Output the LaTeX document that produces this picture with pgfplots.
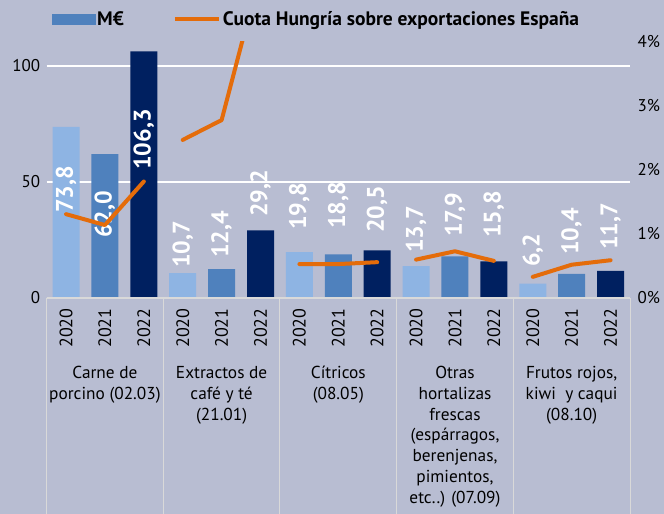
\documentclass[border=0pt]{standalone}
\usepackage{fontspec}
\setmainfont{PT Sans}
\usepackage{pgfplots}
\usepackage{pgfplotstable}
\pgfplotsset{compat=1.18}
\definecolor{bg}{RGB}{184,189,210}
\definecolor{c20}{RGB}{142,180,227}
\definecolor{c21}{RGB}{79,129,189}
\definecolor{c22}{RGB}{0,32,96}
\definecolor{lineor}{RGB}{228,108,10}
\definecolor{sep}{RGB}{217,217,217}

\pgfplotstableread{
x y lab
0.5 36.6 73,8
1.5 25.9 62,0
2.5 55.2 106,3
3.5 12.9 10,7
4.5 17.2 12,4
5.5 34.9 29,2
6.5 29.3 19,8
7.5 29.7 18,8
8.5 28.0 20,5
9.5 19.4 13,7
10.5 26.3 17,9
11.5 25.9 15,8
12.5 13.4 6,2
13.5 18.5 10,4
14.5 20.7 11,7
}\labtable

\begin{document}
\begin{tikzpicture}
\fill[bg] (-46.6pt,-216pt) rectangle (617.4pt,298pt);
\path[use as bounding box] (-46.6pt,-216pt) rectangle (617.4pt,298pt);
\begin{axis}[
  at={(0,0)}, anchor=south west, scale only axis,
  width=583.4pt, height=256pt,
  xmin=0, xmax=15, ymin=0, ymax=110.34,
  axis line style={draw=none},
  ytick={0,50,100},
  ymajorgrids, grid style={white, line width=1.3pt},
  xtick={0.5,1.5,2.5,3.5,4.5,5.5,6.5,7.5,8.5,9.5,10.5,11.5,12.5,13.5,14.5},
  xticklabels={2020,2021,2022,2020,2021,2022,2020,2021,2022,2020,2021,2022,2020,2021,2022},
  x tick label style={rotate=90, anchor=east, font=\fontsize{18}{18}\selectfont},
  xticklabel shift=7pt,
  y tick label style={font=\fontsize{17}{17}\selectfont, xshift=-3pt},
  major tick length=0pt,
  /pgf/number format/assume math mode=true,
  clip=false,
  legend columns=2,
  legend cell align=left,
  legend style={draw=none, fill=none, at={(axis description cs:0,1)}, anchor=west,
    xshift=2pt, yshift=23pt, font=\bfseries\fontsize{19.5}{19.5}\selectfont,
    /tikz/every even column/.append style={column sep=47pt}},
]
\addlegendimage{legend image code/.code={\fill[c21] (0pt,-5pt) rectangle (43pt,5pt);}}
\addlegendentry{M€}
\addlegendimage{legend image code/.code={\draw[lineor, line width=4pt] (0pt,0pt) -- (44pt,0pt);}}
\addlegendentry{Cuota Hungría sobre exportaciones España}

\addplot[forget plot, ybar, bar width=27pt, bar shift=0pt, fill=c20, draw=none]
  coordinates {(0.5,73.8) (3.5,10.7) (6.5,19.8) (9.5,13.7) (12.5,6.2)};
\addplot[forget plot, ybar, bar width=27pt, bar shift=0pt, fill=c21, draw=none]
  coordinates {(1.5,62.0) (4.5,12.4) (7.5,18.8) (10.5,17.9) (13.5,10.4)};
\addplot[forget plot, ybar, bar width=27pt, bar shift=0pt, fill=c22, draw=none]
  coordinates {(2.5,106.3) (5.5,29.2) (8.5,20.5) (11.5,15.8) (14.5,11.7)};

\addplot[forget plot, draw=none, mark=none, nodes near coords, point meta=explicit symbolic,
  nodes near coords style={rotate=90, anchor=west, inner sep=0pt, text=white,
  font=\bfseries\fontsize{24}{24}\selectfont}]
  table[x=x, y=y, meta=lab] {\labtable};

\draw[sep, line width=1.3pt] (axis cs:0,0) -- (axis cs:15,0);
\draw[sep, line width=1pt] (axis cs:0,0) -- ++(0,-216pt);
\draw[sep, line width=1pt] (axis cs:3,0) -- ++(0,-216pt);
\draw[sep, line width=1pt] (axis cs:6,0) -- ++(0,-216pt);
\draw[sep, line width=1pt] (axis cs:9,0) -- ++(0,-216pt);
\draw[sep, line width=1pt] (axis cs:12,0) -- ++(0,-216pt);
\draw[sep, line width=1pt] (axis cs:15,0) -- ++(0,-216pt);

\begin{scope}[font=\fontsize{17.3}{20.7}\selectfont]
\node[anchor=north, align=center] at (axis cs:1.5,0) [yshift=-65pt] {Carne de\\porcino (02.03)};
\node[anchor=north, align=center] at (axis cs:4.5,0) [yshift=-65pt] {Extractos de\\café y té\\(21.01)};
\node[anchor=north, align=center] at (axis cs:7.5,0) [yshift=-65pt] {Cítricos\\(08.05)};
\node[anchor=north, align=center] at (axis cs:10.5,0) [yshift=-65pt] {Otras\\hortalizas\\frescas\\(espárragos,\\berenjenas,\\pimientos,\\etc..) (07.09)};
\node[anchor=north, align=center] at (axis cs:13.5,0) [yshift=-65pt] {Frutos rojos,\\kiwi \ y caqui\\(08.10)};
\end{scope}
\end{axis}

\begin{axis}[
  at={(0,0)}, anchor=south west, scale only axis,
  width=583.4pt, height=256pt,
  xmin=0, xmax=15, ymin=0, ymax=4,
  axis y line*=right, axis x line=none,
  axis line style={draw=none},
  ytick={0,1,2,3,4},
  yticklabel={\pgfmathprintnumber{\tick}\%},
  y tick label style={font=\fontsize{17}{17}\selectfont, xshift=4pt},
  major tick length=0pt,
  /pgf/number format/assume math mode=true,
]
\addplot[lineor, line width=4pt, line cap=round, line join=round, mark=none]
  coordinates {(0.5,1.31) (1.5,1.14) (2.5,1.82)};
\addplot[lineor, line width=4pt, line cap=round, line join=round, mark=none]
  coordinates {(3.5,2.47) (4.5,2.78) (5.5,5.1)};
\addplot[lineor, line width=4pt, line cap=round, line join=round, mark=none]
  coordinates {(6.5,0.53) (7.5,0.53) (8.5,0.56)};
\addplot[lineor, line width=4pt, line cap=round, line join=round, mark=none]
  coordinates {(9.5,0.60) (10.5,0.73) (11.5,0.58)};
\addplot[lineor, line width=4pt, line cap=round, line join=round, mark=none]
  coordinates {(12.5,0.33) (13.5,0.52) (14.5,0.59)};
\end{axis}
\end{tikzpicture}
\end{document}
